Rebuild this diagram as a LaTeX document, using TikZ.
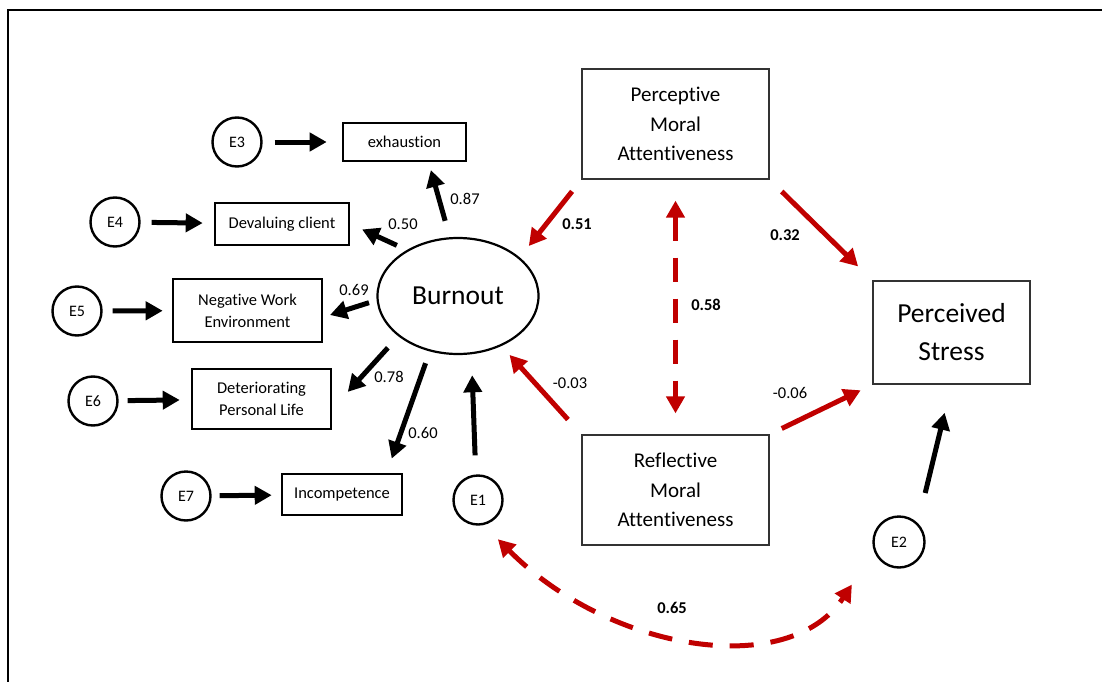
\documentclass[tikz,border=0pt]{standalone}
\usepackage{fontspec}
\setmainfont{Carlito}[Ligatures={NoCommon}]
\usepackage{tikz}
\usetikzlibrary{arrows.meta,shapes.geometric}
\definecolor{semred}{HTML}{C00000}

\begin{document}
\begin{tikzpicture}[x=1pt, y=-1pt,
    err/.style={circle, draw, line width=2.4pt, minimum size=49pt, inner sep=0pt,
      font=\fontsize{16}{18}\selectfont},
    ind/.style={rectangle, draw, line width=2.6pt, inner sep=0pt, align=center,
      font=\fontsize{16.5}{22}\selectfont},
    var/.style={rectangle, draw=black!80, line width=1.2pt, inner sep=0pt, align=center,
      minimum width=187pt, minimum height=110pt, font=\fontsize{21}{29.5}\selectfont},
    coef/.style={inner sep=0pt, font=\fontsize{16.5}{18}\selectfont},
    bcoef/.style={coef, font=\fontsize{16.5}{18}\selectfont\bfseries},
    lpath/.style={line width=5pt, -{Triangle[length=17pt, width=18pt]}},
    rpath/.style={lpath, draw=semred},
    cov/.style={line width=5pt, draw=semred, dash pattern=on 24pt off 17pt,
      {Triangle[length=17pt, width=18pt]}-{Triangle[length=17pt, width=18pt]}}]
      \useasboundingbox (0,0) rectangle (1102,682);
      \draw[line width=2pt] (8,682) -- (8,10.5) -- (1102,10.5);

      \node[ellipse, draw, line width=2.2pt, minimum width=161pt, minimum height=116pt,
        inner sep=0pt, font=\fontsize{27.5}{30}\selectfont] (burnout) at (458,296) {Burnout};

      \node[ind, minimum width=123pt, minimum height=38pt] (exhaustion) at (404.5,142) {exhaustion};
      \node[ind, minimum width=134pt, minimum height=42pt] (devaluing) at (282,224) {Devaluing client};
      \node[ind, minimum width=149pt, minimum height=63pt] (negwork) at (247.5,310.5) {Negative Work\\Environment};
      \node[ind, minimum width=139pt, minimum height=60pt] (deterior) at (261.5,399) {Deteriorating\\Personal Life};
      \node[ind, minimum width=120pt, minimum height=41pt] (incomp) at (342,494.5) {Incompetence};

      \node[err] (E3) at (237,142) {E3};
      \node[err] (E4) at (115,222) {E4};
      \node[err] (E5) at (77,311) {E5};
      \node[err] (E6) at (93,401) {E6};
      \node[err] (E7) at (186,496) {E7};
      \node[err] (E1) at (478,500) {E1};
      \node[err, minimum size=51pt] (E2) at (899,542) {E2};

      \node[var] (percep) at (675.5,124) {Perceptive\\Moral\\Attentiveness};
      \node[var] (reflect) at (675.5,490) {Reflective\\Moral\\Attentiveness};
      \node[var, minimum width=157pt, minimum height=103pt,
        font=\fontsize{27.5}{38}\selectfont] (stress) at (951.5,332.5) {Perceived\\Stress};

      \draw[lpath, shorten <=12pt, shorten >=15pt] (E3) -- (exhaustion);
      \draw[lpath, shorten <=11pt, shorten >=11pt] (E4) -- (devaluing);
      \draw[lpath, shorten <=10pt, shorten >=9pt] (E5) -- (negwork);
      \draw[lpath, shorten <=9pt, shorten >=11pt] (E6) -- (deterior);
      \draw[lpath, shorten <=8pt, shorten >=9pt] (E7) -- (incomp);

      \draw[lpath, shorten <=17pt, shorten >=8pt] (burnout.98) -- (exhaustion.-40);
      \draw[lpath, shorten <=11pt, shorten >=13pt] (burnout.138) -- (devaluing.east);
      \draw[lpath, shorten <=8pt, shorten >=7pt] (burnout.183.5) -- (negwork.-5);
      \draw[lpath, shorten <=15.5pt, shorten >=23pt] (burnout.214) -- (deterior.-8);
      \draw[lpath, shorten <=12.5pt, shorten >=15pt] (burnout.243) -- (incomp.26);
      \draw[lpath, shorten <=19pt, shorten >=21pt] (E1.95) -- (burnout.283);
      \draw[lpath, shorten <=31pt, shorten >=29pt] (E2.45) -- (stress.south);

      \draw[rpath, shorten <=15pt, shorten >=14.5pt] (percep.south west) -- (burnout.32);
      \draw[rpath, shorten <=20pt, shorten >=12pt] (reflect.north west) -- (burnout.-49);
      \draw[rpath, shorten <=17pt, shorten >=20pt] (percep.south east) -- (stress.north west);
      \draw[rpath, shorten <=13.5pt, shorten >=13pt] (reflect.north east) -- (stress.south west);

      \draw[cov, shorten <=21pt, shorten >=21pt] (percep.south) -- (reflect.north);
      \draw[cov, shorten <=20pt, shorten >=40pt] (E1.-77) .. controls (610,652) and (789,680) .. (E2.200);

      \node[coef] (l87) at (465,199) {0.87};
      \node[coef] (l50) at (403,224) {0.50};
      \node[coef] (l69) at (354,290) {0.69};
      \node[coef] (l78) at (389,377) {0.78};
      \node[coef] (l60) at (423,433) {0.60};
      \node[coef] (l03) at (570,383) {-0.03};
      \node[coef] (l06) at (790,393) {-0.06};
      \node[bcoef] (l51) at (577,224) {0.51};
      \node[bcoef] (l32) at (785,235) {0.32};
      \node[bcoef] (l58) at (706,305) {0.58};
      \node[bcoef] (l65) at (672,608) {0.65};
    \end{tikzpicture}
\end{document}
